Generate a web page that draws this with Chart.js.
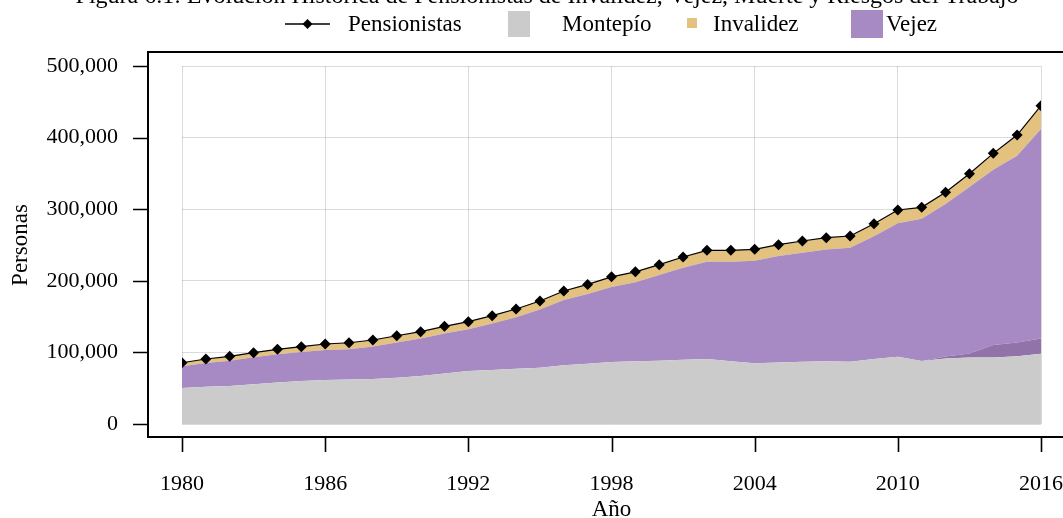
<!DOCTYPE html>
<html lang="es">
<head>
<meta charset="utf-8">
<title>Pensionistas IVM</title>
<script src="https://cdn.jsdelivr.net/npm/chart.js@4.4.1/dist/chart.umd.min.js"></script>
<style>
  html, body { margin: 0; padding: 0; background: #fff; overflow: hidden; }
  #wrap { position: relative; width: 1063px; height: 518px; }
</style>
</head>
<body>
<div id="wrap"><canvas id="c" width="1063" height="518"></canvas></div>
<script>
// Años de la serie
const years = [1980, 1981, 1982, 1983, 1984, 1985, 1986, 1987, 1988, 1989,
               1990, 1991, 1992, 1993, 1994, 1995, 1996, 1997, 1998, 1999,
               2000, 2001, 2002, 2003, 2004, 2005, 2006, 2007, 2008, 2009,
               2010, 2011, 2012, 2013, 2014, 2015, 2016];

// Total de pensionistas
const pensionistas = [85500, 90800, 94500, 99600, 104300, 108000, 111700, 113500, 117300, 123300,
                      128900, 136400, 142900, 151300, 160600, 171800, 185800, 195000, 205500, 212500,
                      222500, 233300, 242600, 242600, 244000, 250500, 255600, 260200, 262600, 279800,
                      298900, 302600, 323600, 349600, 378000, 403600, 444600];

// Pensiones de montepío (muerte)
const montepio = [50300, 52000, 53000, 55500, 58000, 60000, 61500, 62000, 63000, 64500,
                  67000, 70500, 74000, 75500, 77000, 78500, 82000, 84000, 86500, 87500,
                  88500, 89800, 90800, 87500, 84700, 86000, 87000, 87500, 87000, 90800,
                  94000, 88000, 91500, 93000, 93000, 94500, 98000];

// Riesgos del trabajo
const riesgos = [0, 0, 0, 0, 0, 0, 0, 0, 0, 0,
                 0, 0, 0, 0, 0, 0, 0, 0, 0, 0,
                 0, 0, 0, 0, 0, 0, 0, 0, 0, 0,
                 0, 0, 2800, 5500, 17500, 19500, 21500];

// Pensiones de vejez
const vejez = [30200, 33300, 35500, 37600, 39300, 40500, 41700, 42500, 45300, 49300,
               52400, 55900, 58400, 64800, 72100, 81300, 91300, 97500, 105000, 110500,
               119500, 128500, 135800, 139100, 143300, 148500, 152300, 156200, 159100, 171500,
               186400, 198600, 212800, 232600, 244500, 260600, 292600];

// Pensiones de invalidez
const invalidez = [5000, 5500, 6000, 6500, 7000, 7500, 8500, 9000, 9000, 9500,
                   9500, 10000, 10500, 11000, 11500, 12000, 12500, 13500, 14000, 14500,
                   14500, 15000, 16000, 16000, 16000, 16000, 16300, 16500, 16500, 17500,
                   18500, 16000, 16500, 18500, 23000, 29000, 32500];

const yTicks = [0, 100000, 200000, 300000, 400000, 500000];
const xTicks = [1980, 1986, 1992, 1998, 2004, 2010, 2016];

const tituloFigura = 'Figura 6.1: Evolución Histórica de Pensionistas de Invalidez, Vejez, Muerte y Riesgos del Trabajo';

const COL = {
  gris: '#cbcbcb',
  morado: '#a78ac3',
  moradoOscuro: '#9273a9',
  ocre: '#e3c17f',
  grid: 'rgba(0,0,0,0.14)'
};

const FONT = '"Liberation Serif", "Times New Roman", serif';
Chart.defaults.font.family = FONT;
Chart.defaults.color = '#000';

const area = (label, data, color, fill) => ({
  label, data, fill, stack: 'capas',
  backgroundColor: color, borderColor: color, borderWidth: 0,
  pointRadius: 0, pointHoverRadius: 0, tension: 0
});

// Marco con ejes desplazados y marcas de graduación exteriores
const marco = {
  id: 'marco',
  afterDraw(chart) {
    const { ctx, chartArea: a, scales: { x, y } } = chart;
    const L = a.left - 34, T = a.top - 14, B = a.bottom + 13;
    ctx.save();
    ctx.strokeStyle = '#000';
    ctx.lineWidth = 2;
    ctx.beginPath();
    ctx.moveTo(chart.width + 5, T);
    ctx.lineTo(L, T);
    ctx.lineTo(L, B);
    ctx.lineTo(chart.width + 5, B);
    ctx.stroke();
    ctx.lineWidth = 1.6;
    ctx.beginPath();
    y.ticks.forEach(t => {
      const py = Math.round(y.getPixelForValue(t.value)) + 0.5;
      ctx.moveTo(L - 15, py); ctx.lineTo(L, py);
    });
    x.ticks.forEach(t => {
      const px = Math.round(x.getPixelForValue(t.value)) + 0.5;
      ctx.moveTo(px, B); ctx.lineTo(px, B + 15);
    });
    ctx.stroke();
    ctx.restore();
  }
};

// Título y leyenda superiores
const cabecera = {
  id: 'cabecera',
  afterDraw(chart) {
    const { ctx } = chart;
    const ds = chart.data.datasets;
    const byLabel = l => ds.find(d => d.label === l);
    ctx.save();
    ctx.fillStyle = '#000';
    ctx.font = '24px ' + FONT;
    ctx.textBaseline = 'alphabetic';
    ctx.textAlign = 'center';
    ctx.fillText(tituloFigura, 547, 3);

    ctx.font = '23px ' + FONT;
    ctx.textAlign = 'left';
    const yc = 24, base = 31;
    // Pensionistas: línea con rombo
    const p = byLabel('Pensionistas');
    ctx.strokeStyle = p.borderColor;
    ctx.lineWidth = 1.3;
    ctx.beginPath(); ctx.moveTo(285, yc); ctx.lineTo(330, yc); ctx.stroke();
    ctx.fillStyle = p.pointBackgroundColor;
    Chart.helpers.drawPoint(ctx, { pointStyle: 'rectRot', radius: 5, borderWidth: 0 }, 307.5, yc);
    ctx.fillStyle = '#000';
    ctx.fillText('Pensionistas', 348, base);

    const cajas = [
      { label: 'Montepío', x: 508, y: 11, w: 22, h: 26, tx: 562 },
      { label: 'Invalidez', x: 687, y: 18, w: 10, h: 10, tx: 713 },
      { label: 'Vejez', x: 851, y: 10, w: 32, h: 28, tx: 886 }
    ];
    cajas.forEach(c => {
      ctx.fillStyle = byLabel(c.label).backgroundColor;
      ctx.fillRect(c.x, c.y, c.w, c.h);
      ctx.fillStyle = '#000';
      ctx.fillText(c.label, c.tx, base);
    });
    ctx.restore();
  }
};

new Chart(document.getElementById('c'), {
  type: 'line',
  data: {
    labels: years,
    datasets: [
      {
        label: 'Pensionistas', data: pensionistas, stack: 'total', fill: false,
        borderColor: '#000', borderWidth: 1.2, tension: 0,
        pointStyle: 'rectRot', pointRadius: 5.5, pointBorderWidth: 0,
        pointBackgroundColor: '#000', pointBorderColor: '#000'
      },
      area('Montepío', montepio, COL.gris, 'origin'),
      area('Riesgos del Trabajo', riesgos, COL.moradoOscuro, '-1'),
      area('Vejez', vejez, COL.morado, '-1'),
      area('Invalidez', invalidez, COL.ocre, '-1')
    ]
  },
  options: {
    responsive: false,
    animation: false,
    devicePixelRatio: 1,
    layout: { autoPadding: false, padding: { top: 66, right: 22, left: 0, bottom: 0 } },
    plugins: { legend: { display: false }, title: { display: false }, tooltip: { enabled: false } },
    scales: {
      x: {
        type: 'linear', min: 1980, max: 2016, z: 1,
        afterBuildTicks: s => { s.ticks = xTicks.map(v => ({ value: v })); },
        afterFit: s => { s.height = 94; s.paddingLeft = 0; s.paddingRight = 0; },
        grid: { color: COL.grid, lineWidth: 1, drawTicks: false },
        border: { display: false },
        ticks: { padding: 47, font: { size: 22 }, color: '#000', callback: v => String(v), maxRotation: 0 },
        title: { display: true, text: 'Año', font: { size: 23 }, color: '#000', padding: { top: 0, bottom: -6 } }
      },
      y: {
        stacked: true, min: 0, max: 500000, z: 1,
        afterBuildTicks: s => { s.ticks = yTicks.map(v => ({ value: v })); },
        afterFit: s => { s.width = 182; s.paddingTop = 0; s.paddingBottom = 0; },
        grid: { color: COL.grid, lineWidth: 1, drawTicks: false },
        border: { display: false },
        ticks: { padding: 64, font: { size: 22 }, color: '#000', callback: v => v.toLocaleString('en-US') },
        title: { display: true, text: 'Personas', font: { size: 23 }, color: '#000', padding: { top: 7, bottom: 0 } }
      }
    }
  },
  plugins: [marco, cabecera]
});
</script>
</body>
</html>
